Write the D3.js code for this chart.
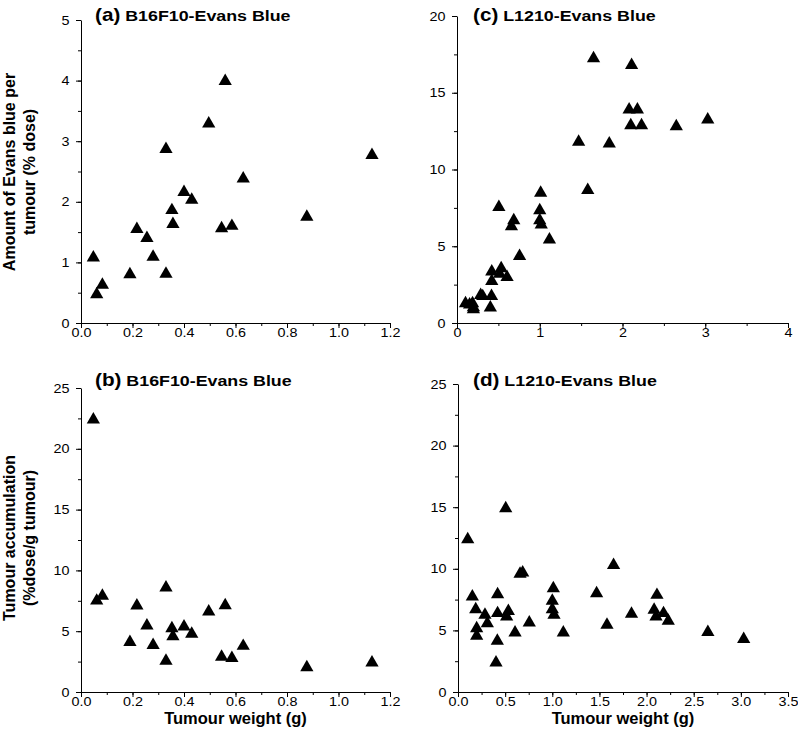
<!DOCTYPE html>
<html><head><meta charset="utf-8">
<script src="https://cdn.jsdelivr.net/npm/d3@7"></script>
<style>
body{margin:0;background:#fff}
svg{display:block}
text{font-family:"Liberation Sans",Arial,Helvetica,sans-serif;fill:#000}
</style>
</head><body>
<svg id="chart" width="798" height="742"></svg>
<script>
// ---- Data: B16F10 tumours (panels a, b) ----
const weightB16 = [0.048,0.061,0.083,0.19,0.217,0.256,0.28,0.33,0.33,0.353,0.357,0.40,0.43,0.496,0.546,0.56,0.586,0.63,0.877,1.13];
const amountB16 = [1.08,0.47,0.63,0.80,1.55,1.40,1.09,0.81,2.87,1.86,1.63,2.16,2.03,3.29,1.56,3.99,1.60,2.38,1.75,2.77];
const accumB16  = [22.4,7.5,7.9,4.1,7.1,5.45,3.86,2.55,8.58,5.23,4.58,5.37,4.77,6.6,2.88,7.12,2.79,3.78,2.03,2.41];

// ---- Data: L1210 tumours (panels c, d) ----
const weightL1210 = [0.103,0.152,0.188,0.198,0.198,0.286,0.311,0.403,0.417,0.42,0.42,0.506,0.516,0.534,0.605,0.658,0.686,0.756,1.0,1.0,1.011,1.018,1.117,1.47,1.58,1.65,1.84,2.08,2.10,2.11,2.18,2.23,2.65,3.03];
const amountL1210 = [1.28,1.2,1.28,1.02,0.89,1.82,1.74,1.0,1.75,2.72,3.34,7.54,3.19,3.56,2.98,6.29,6.68,4.36,7.33,6.68,8.47,6.4,5.43,11.8,8.66,17.24,11.68,13.9,12.87,16.79,13.9,12.87,12.8,13.25];
const accumL1210  = [12.39,7.74,6.71,5.17,4.55,6.25,5.57,2.38,4.14,6.39,7.93,14.9,6.11,6.57,4.81,9.58,9.69,5.63,7.39,6.71,8.41,6.25,4.81,8.0,5.44,10.3,6.33,6.66,6.12,7.87,6.39,5.77,4.85,4.29];

// ---- Tick labels ----
const xTicksB16   = [0,0.2,0.4,0.6,0.8,1.0,1.2];
const yTicksA     = [0,1,2,3,4,5];
const xTicksC     = [0,1,2,3,4];
const yTicksC     = [0,5,10,15,20];
const yTicksBD    = [0,5,10,15,20,25];
const xTicksD     = [0,0.5,1.0,1.5,2.0,2.5,3.0,3.5];

const titles = [
  {tag:"(a)", name:"B16F10-Evans Blue"},
  {tag:"(b)", name:"B16F10-Evans Blue"},
  {tag:"(c)", name:"L1210-Evans Blue"},
  {tag:"(d)", name:"L1210-Evans Blue"}
];

const svg = d3.select("#chart");
const SX = 1.15; // horizontal stretch of the original lettering

const panels = [
  {px:[81,390], py:[323,20], xd:[0,1.2], yd:[0,5], xt:xTicksB16, yt:yTicksA, xm:0.1, ym:0.5, xf:".1f", xs:weightB16, ys:amountB16, title:titles[0], tx:95, ty:21},
  {px:[81,390], py:[692,388], xd:[0,1.2], yd:[0,25], xt:xTicksB16, yt:yTicksBD, xm:0.1, ym:2.5, xf:".1f", xs:weightB16, ys:accumB16, title:titles[1], tx:95, ty:386},
  {px:[457,788], py:[323,16], xd:[0,4], yd:[0,20], xt:xTicksC, yt:yTicksC, xm:0.5, ym:2.5, xf:"d", xs:weightL1210, ys:amountL1210, title:titles[2], tx:473, ty:21},
  {px:[458,788], py:[692,384], xd:[0,3.5], yd:[0,25], xt:xTicksD, yt:yTicksBD, xm:0.25, ym:2.5, xf:".1f", xs:weightL1210, ys:accumL1210, title:titles[3], tx:473, ty:386}
];

const tri = d3.symbol().type(d3.symbolTriangle).size(76);

panels.forEach(p => {
  const x = d3.scaleLinear().domain(p.xd).range(p.px);
  const y = d3.scaleLinear().domain(p.yd).range(p.py);
  const g = svg.append("g");

  const xMinor = d3.range(p.xd[0], p.xd[1] + 1e-9, p.xm);
  const yMinor = d3.range(p.yd[0], p.yd[1] + 1e-9, p.ym);

  // minor ticks
  g.append("g").attr("transform",`translate(0,${p.py[0]})`)
    .call(d3.axisBottom(x).tickValues(xMinor).tickSize(3).tickFormat(""))
    .call(s=>s.select(".domain").remove());
  g.append("g").attr("transform",`translate(${p.px[0]},0)`)
    .call(d3.axisLeft(y).tickValues(yMinor).tickSize(3).tickFormat(""))
    .call(s=>s.select(".domain").remove());

  // major axes
  const gx = g.append("g").attr("transform",`translate(0,${p.py[0]})`)
    .call(d3.axisBottom(x).tickValues(p.xt).tickFormat(d3.format(p.xf)).tickSize(5).tickSizeOuter(0).tickPadding(0));
  const gy = g.append("g").attr("transform",`translate(${p.px[0]},0)`)
    .call(d3.axisLeft(y).tickValues(p.yt).tickFormat(d3.format("d")).tickSize(5).tickSizeOuter(0).tickPadding(5));
  [gx,gy].forEach(a=>{
    a.selectAll("text").attr("transform",`scale(${SX},1)`).style("font-size","12.5px").attr("fill","#000");
    a.select(".domain").attr("stroke","#000");
  });
  g.selectAll(".tick line").attr("stroke","#000");

  // points
  g.append("g").selectAll("path").data(p.xs.map((v,i)=>[v,p.ys[i]])).join("path")
    .attr("d", tri)
    .attr("transform", d=>`translate(${x(d[0])},${y(d[1])})`)
    .attr("fill","#000");

  // title
  const t = g.append("text").attr("transform",`translate(${p.tx},${p.ty}) scale(${SX},1)`)
    .attr("font-weight","bold");
  t.append("tspan").text(p.title.tag).style("font-size","18px");
  t.append("tspan").text(" " + p.title.name).style("font-size","15.5px");
});

// axis titles
svg.append("text").attr("x",235.5).attr("y",724).attr("text-anchor","middle")
  .attr("font-weight","bold").style("font-size","16.5px").text("Tumour weight (g)");
svg.append("text").attr("x",623).attr("y",724).attr("text-anchor","middle")
  .attr("font-weight","bold").style("font-size","16.5px").text("Tumour weight (g)");

const yl = [
  {lines:["Amount of Evans blue per","tumour (% dose)"], cy:172},
  {lines:["Tumour accumulation","(%dose/g tumour)"], cy:538}
];
yl.forEach(l=>{
  l.lines.forEach((s,i)=>{
    svg.append("text").attr("transform",`translate(${15 + i*20},${l.cy}) rotate(-90)`)
      .attr("text-anchor","middle").attr("font-weight","bold").style("font-size","16px").text(s);
  });
});
</script>
</body></html>
